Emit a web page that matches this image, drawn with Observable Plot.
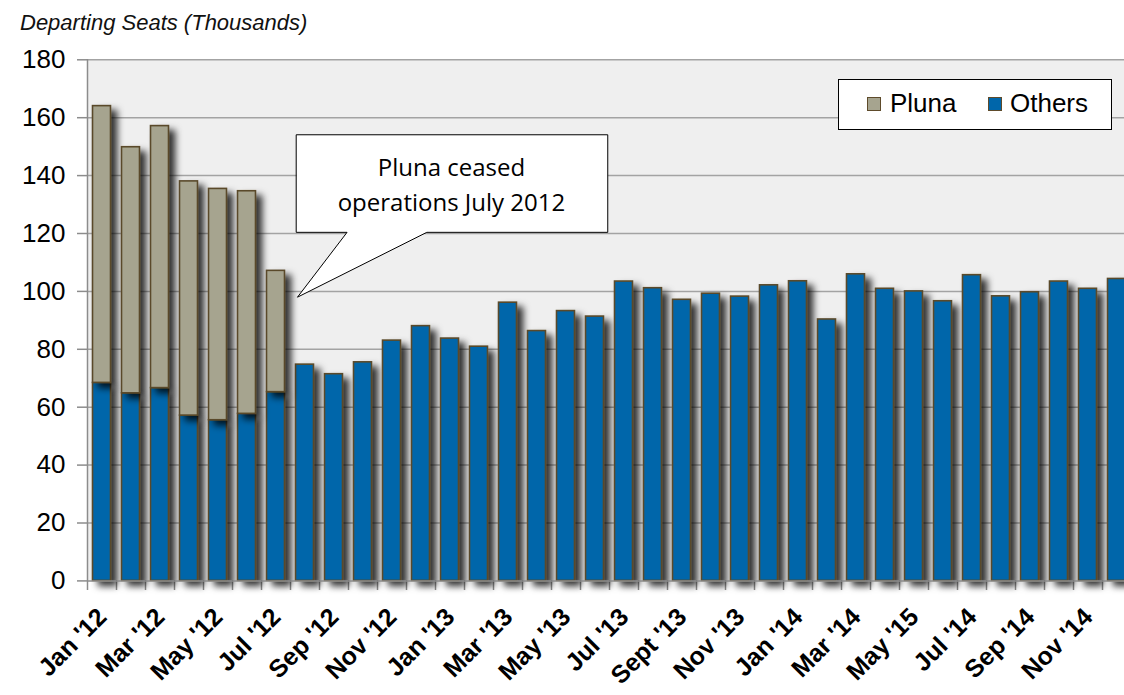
<!DOCTYPE html>
<html>
<head>
<meta charset="utf-8">
<script src="https://cdn.jsdelivr.net/npm/d3@7"></script>
<script src="https://cdn.jsdelivr.net/npm/@observablehq/plot@0.6"></script>
<style>
  html, body { margin: 0; padding: 0; background: white; overflow: hidden; }
  #wrap { position: relative; width: 1124px; height: 695px; }
  #title { height: 40px; box-sizing: border-box; padding-left: 20px; padding-top: 12px;
           font-family: "Liberation Sans", Arial, sans-serif; font-style: italic; font-size: 22px; color: #111; line-height: 22px; }
  #legend { position: absolute; left: 838px; top: 79px; width: 272px; height: 49px; background: white;
            border: 1.5px solid #000; font-family: "Liberation Sans", Arial, sans-serif; font-size: 26px; }
  .sw { position: absolute; top: 17px; width: 12px; height: 12px; border: 1.5px solid #5e4b2b; }
  .lt { position: absolute; top: 9px; line-height: 28px; }
  svg { overflow: hidden; display: block; }
</style>
</head>
<body>
<div id="wrap">
  <div id="title">Departing Seats (Thousands)</div>
  <div id="chart"></div>
  <div id="legend">
    <span class="sw" style="left:28px;background:#a6a48f"></span><span class="lt" style="left:51px">Pluna</span>
    <span class="sw" style="left:149px;background:#0066aa"></span><span class="lt" style="left:171px">Others</span>
  </div>
</div>
<script>
// ---- data ----
const months = ["Jan '12","Feb '12","Mar '12","Apr '12","May '12","Jun '12","Jul '12","Aug '12","Sep '12","Oct '12","Nov '12","Dec '12",
  "Jan '13","Feb '13","Mar '13","Apr '13","May '13","Jun '13","Jul '13","Aug '13","Sep '13","Oct '13","Nov '13","Dec '13",
  "Jan '14","Feb '14","Mar '14","Apr '14","May '14","Jun '14","Jul '14","Aug '14","Sep '14","Oct '14","Nov '14","Dec '14"];
const others = [68.4,64.8,66.6,57.1,55.5,57.7,65.2,74.7,71.4,75.5,83.0,88.0,
  83.7,80.9,96.1,86.3,93.2,91.3,103.4,101.1,97.1,99.2,98.2,102.1,
  103.5,90.3,105.9,100.9,100.0,96.6,105.6,98.3,99.7,103.4,100.9,104.3];
const pluna = [95.6,85.0,90.5,80.9,79.9,76.9,41.9];
const xTickLabels = ["Jan '12","Mar '12","May '12","Jul '12","Sep '12","Nov '12","Jan '13","Mar '13","May '13",
  "Jul '13","Sept '13","Nov '13","Jan '14","Mar '14","May '15","Jul '14","Sep '14","Nov '14"];
const yTicks = [0,20,40,60,80,100,120,140,160,180];
const calloutText = "Pluna ceased\noperations July 2012";
// callout outline, in data units (month index, thousands of seats)
const calloutShape = [
  {x:7.21,y:154.1},{x:17.94,y:154.1},{x:17.94,y:120.4},{x:11.7,y:120.4},{x:7.24,y:98.0},
  {x:8.95,y:120.4},{x:7.21,y:120.4}
];
const calloutAnchor = [{x:12.55, y:137.7}];

const rows = months.map((m, i) => ({i, month: m, others: others[i], pluna: pluna[i] || 0}));
const plunaRows = rows.filter(d => d.pluna > 0);
const labelRows = xTickLabels.map((t, k) => ({t, pos: 2 * k + 0.5}));

const PLUNA = "#a6a48f", OTHERS = "#0066aa", EDGE = "#5a4a2a";

const chart = Plot.plot({
  width: 1124,
  height: 655,
  marginTop: 19,
  marginBottom: 115,
  marginLeft: 87,
  marginRight: 0,
  style: {fontFamily: "'Liberation Sans', Arial, sans-serif", background: "white", color: "#000"},
  x: {type: "linear", domain: [0, 36], range: [87, 1131], axis: null},
  y: {domain: [0, 180], range: [540.4, 19.3], axis: null},
  marks: [
    Plot.frame({fill: "#efefef", stroke: null}),
    Plot.ruleY(yTicks.filter(v => v > 0), {stroke: "#a3a3a3", strokeWidth: 1.5}),
    Plot.axisY({ticks: yTicks, tickSize: 10, tickPadding: 12, fontSize: 26, stroke: "#8c8c8c", strokeWidth: 1.5, label: null, tickFormat: d => String(d)}),
    Plot.axisX({ticks: d3.range(0, 37), tickSize: 10, tickFormat: () => "", stroke: "#8c8c8c", strokeWidth: 1.5, label: null}),
    Plot.rectY(rows, {x1: d => d.i + 0.19, x2: d => d.i + 0.81, y1: 0, y2: "others", fill: OTHERS, stroke: EDGE, strokeWidth: 1.6}),
    Plot.rectY(plunaRows, {x1: d => d.i + 0.19, x2: d => d.i + 0.81, y1: "others", y2: d => d.others + d.pluna, fill: PLUNA, stroke: EDGE, strokeWidth: 1.6}),
    Plot.ruleX([0], {stroke: "#8c8c8c", strokeWidth: 1.5}),
    Plot.ruleY([0], {stroke: "#8c8c8c", strokeWidth: 1.5}),
    Plot.text(labelRows, {x: "pos", frameAnchor: "bottom", text: "t", rotate: -45, textAnchor: "end",
      fontWeight: "bold", fontSize: 25, dx: 6, dy: 38, fill: "#000"}),
    Plot.line(calloutShape, {x: "x", y: "y", curve: "linear-closed", fill: "white", stroke: "#000", strokeWidth: 1}),
    Plot.text(calloutAnchor, {x: "x", y: "y", text: () => calloutText, fontFamily: "'Open Sans', Lato, sans-serif",
      fontSize: 24, lineHeight: 1.48, fill: "#000"})
  ]
});

// drop shadow filter on bars
const ns = "http://www.w3.org/2000/svg";
const defs = document.createElementNS(ns, "defs");
defs.innerHTML = '<filter id="barShadow" x="-30%" y="-10%" width="190%" height="130%">' +
  '<feDropShadow dx="6" dy="5" stdDeviation="3.5" flood-color="#000" flood-opacity="0.8"/></filter>';
chart.insertBefore(defs, chart.firstChild);
chart.querySelectorAll('g[aria-label="rect"]').forEach(g => g.setAttribute("filter", "url(#barShadow)"));

document.getElementById("chart").appendChild(chart);
</script>
</body>
</html>
